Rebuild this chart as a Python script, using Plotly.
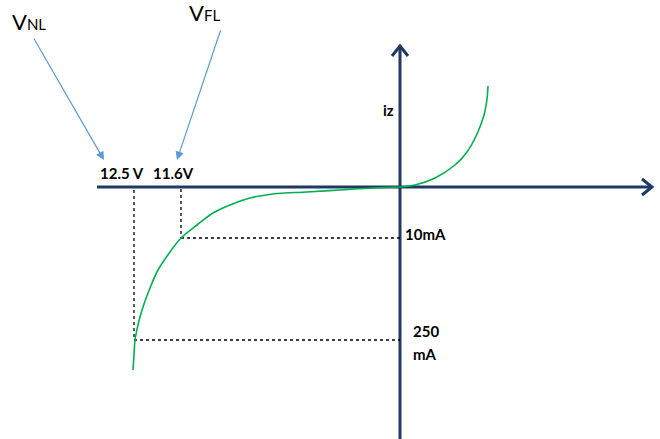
import plotly.graph_objects as go

# Zener characteristic (diagram units: origin at axes crossing, y up)
rev_x = [-267, -266, -265, -262, -258, -250, -242, -230, -219, -203, -187, -170, -150, -127, -93, -60, -27, 0]
rev_y = [-183, -168, -153, -138, -123, -101, -83, -65, -51, -38, -26, -18, -11, -7, -5, -3, -1, 0]
fwd_x = [0, 15, 35, 55, 67, 77, 84, 87, 88]
fwd_y = [0, 2, 9, 22, 35, 53, 72, 88, 101]

# marked operating points (x = voltage position, y = current position)
v_nl_x, i_max_y = -266, -153   # 12.5 V, 250 mA
v_fl_x, i_min_y = -219, -51    # 11.6 V, 10 mA

x_axis = (-303, 252)
y_axis = (-253, 141)

navy = "#1F3864"
fig = go.Figure()

# axes
fig.add_trace(go.Scatter(x=list(x_axis), y=[0, 0], mode="lines", line=dict(color=navy, width=3), hoverinfo="skip"))
fig.add_trace(go.Scatter(x=[0, 0], y=list(y_axis), mode="lines", line=dict(color=navy, width=3), hoverinfo="skip"))
# chevrons
fig.add_trace(go.Scatter(x=[x_axis[1] - 10, x_axis[1], x_axis[1] - 10], y=[8, 0, -8], mode="lines",
                         line=dict(color=navy, width=3), hoverinfo="skip"))
fig.add_trace(go.Scatter(x=[-8, 0, 8], y=[y_axis[1] - 10, y_axis[1], y_axis[1] - 10], mode="lines",
                         line=dict(color=navy, width=3), hoverinfo="skip"))

# dotted guides
dot = dict(color="black", width=1.3, dash="dot")
fig.add_trace(go.Scatter(x=[v_nl_x, v_nl_x], y=[-3, i_max_y], mode="lines", line=dot, hoverinfo="skip"))
fig.add_trace(go.Scatter(x=[v_nl_x, 0], y=[i_max_y, i_max_y], mode="lines", line=dot, hoverinfo="skip"))
fig.add_trace(go.Scatter(x=[v_fl_x, v_fl_x], y=[-2, i_min_y], mode="lines", line=dot, hoverinfo="skip"))
fig.add_trace(go.Scatter(x=[v_fl_x, 0], y=[i_min_y, i_min_y], mode="lines", line=dot, hoverinfo="skip"))

# curve
fig.add_trace(go.Scatter(x=rev_x, y=rev_y, mode="lines", line=dict(color="#00B050", width=1.6, shape="spline", smoothing=1.0), hoverinfo="skip"))
fig.add_trace(go.Scatter(x=fwd_x, y=fwd_y, mode="lines", line=dict(color="#00B050", width=1.6, shape="spline", smoothing=1.0), hoverinfo="skip"))

ann = []
def txt(x, y, s, size=15, anchor="left"):
    ann.append(dict(x=x, y=y, text=s, showarrow=False, xanchor=anchor, yanchor="middle",
                    font=dict(family="Lato, Open Sans, sans-serif", size=size, color="black")))

txt(-302, 14, "<b>12.5 V</b>")
txt(-249, 14, "<b>11.6V</b>")
txt(-19, 77, "<b>iz</b>")
txt(3, -47, "<b>10mA</b>")
txt(11, -144, "<b>250</b>")
txt(11, -167, "<b>mA</b>")
txt(-390, 166, "V<span style='font-size:15px'>NL</span>", size=22)
txt(-213, 175, "V<span style='font-size:15px'>FL</span>", size=22)

blue = "#5B9BD5"
ann.append(dict(x=-296, y=27, ax=-367, ay=150, xref="x", yref="y", axref="x", ayref="y",
                showarrow=True, arrowhead=2, arrowsize=1.4, arrowwidth=1.2, arrowcolor=blue, text=""))
ann.append(dict(x=-223, y=27, ax=-179, ay=158, xref="x", yref="y", axref="x", ayref="y",
                showarrow=True, arrowhead=2, arrowsize=1.4, arrowwidth=1.2, arrowcolor=blue, text=""))

fig.update_layout(
    width=660, height=439, margin=dict(l=0, r=0, t=0, b=0),
    paper_bgcolor="white", plot_bgcolor="white", showlegend=False,
    xaxis=dict(range=[-400, 260], visible=False, fixedrange=True),
    yaxis=dict(range=[-252, 187], visible=False, fixedrange=True),
    annotations=ann,
)
fig.write_html("out.html", config={"displayModeBar": False})

with open("out.html", encoding="utf-8") as f:
    html = f.read()
html = html.replace("<head>", "<head><style>html,body{margin:0;padding:0;overflow:hidden;}</style>", 1)
with open("out.html", "w", encoding="utf-8") as f:
    f.write(html)
